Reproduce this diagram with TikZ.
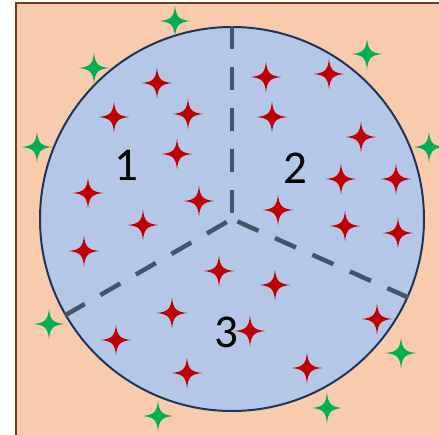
\documentclass[tikz,border=0pt]{standalone}
\usepackage{fontspec}
\setmainfont{Carlito}
\definecolor{peach}{HTML}{F8CBAD}
\definecolor{frame}{HTML}{6B3E1E}
\definecolor{disk}{HTML}{B4C7E7}
\definecolor{diskline}{HTML}{1F3459}
\definecolor{divider}{HTML}{44546A}
\definecolor{redstar}{HTML}{C00000}
\definecolor{greenstar}{HTML}{00B050}
\tikzset{
  star4/.pic={\fill[pic actions] (0,15.5) .. controls (1.1,4) and (4,1.1) .. (15.5,0)
     .. controls (4,-1.1) and (1.1,-4) .. (0,-15.5)
     .. controls (-1.1,-4) and (-4,-1.1) .. (-15.5,0)
     .. controls (-4,1.1) and (-1.1,4) .. cycle;},
  rs/.style={fill=redstar},
  gs/.style={fill=greenstar},
  divline/.style={draw=divider, line width=4.5pt, dash pattern=on 23pt off 18pt},
  lbl/.style={font=\fontsize{47}{47}\selectfont, inner sep=0pt}
}
\begin{document}
\begin{tikzpicture}[x=1pt,y=-1pt]
\useasboundingbox (0,0) rectangle (439,434);
\fill[peach] (16,3) rectangle (445,440);
\draw[frame, line width=2pt] (16,440) -- (16,3) -- (445,3);
\node[circle, draw=diskline, fill=disk, line width=2pt, minimum size=384pt, inner sep=0pt] (c) at (232,219) {};
\draw[divline] (c.90) -- (c.center);
\draw[divline] (c.210) -- (c.center);
\draw[divline] (c.-24.5) -- (c.center);
\node[lbl] (l1) at (126,165) {1};
\node[lbl] (l2) at (295,168) {2};
\node[lbl] (l3) at (226,332) {3};
% green stars
\foreach \p in {(175,21),(94,68),(37,147),(367,54),(429,147),(49,324),(401,353),(158,416),(327,408)}
  \pic[gs] at \p {star4};
% red stars
\foreach \p in {(157,83),(114,117),(188,114),(177,154),(88,193),(199,201),(143,225),(84,251),
  (266,77),(329,74),(272,117),(361,137),(341,179),(396,179),(278,210),
  (345,226),(398,233),(219,271),(275,285),(172,313),(116,340),(250,331),(187,373),(307,368),(377,319)}
  \pic[rs] at \p {star4};
\end{tikzpicture}
\end{document}
